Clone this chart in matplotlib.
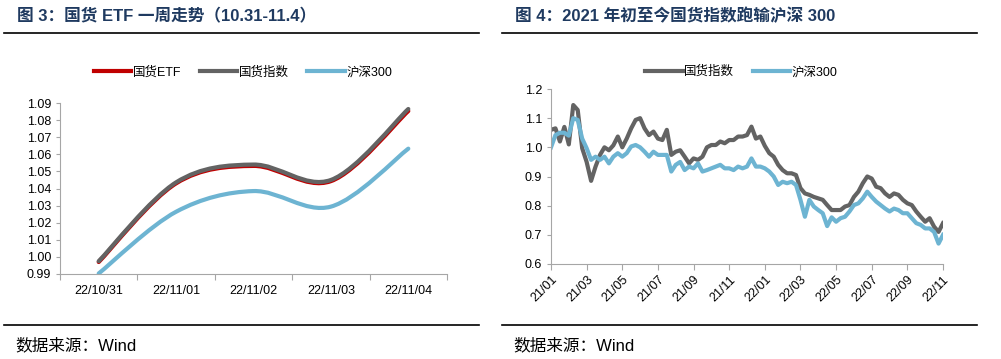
import numpy as np
import matplotlib
matplotlib.use("Agg")
import matplotlib.pyplot as plt
from matplotlib.path import Path
from matplotlib.patches import PathPatch
from matplotlib.lines import Line2D

plt.rcParams['font.family'] = ['Liberation Sans', 'Noto Sans CJK SC', 'DejaVu Sans']

# ---- left chart data: one week ----
week_labels = ['22/10/31', '22/11/01', '22/11/02', '22/11/03', '22/11/04']
etf = [0.9970, 1.0430, 1.0532, 1.0443, 1.0853]
guohuo_week = [0.9975, 1.0436, 1.0540, 1.0450, 1.0865]
hs300_week = [0.9903, 1.0264, 1.0385, 1.0294, 1.0633]

# ---- right chart data: since 2021, sampled every quarter month ----
month_pos = np.arange(0, 22.01, 0.25)
guohuo_long = [
    1.06, 1.065, 1.02, 1.07, 1.01, 1.145, 1.128, 0.997, 0.95, 0.885,
    0.934, 0.974, 1.0, 0.99, 1.007, 1.037, 1.0, 1.03, 1.065, 1.094,
    1.10, 1.065, 1.042, 1.054, 1.03, 1.025, 1.06, 0.974, 0.985,
    0.99, 0.968, 0.945, 0.962, 0.957, 0.968, 1.0, 1.008, 1.008, 1.02,
    1.014, 1.025, 1.025, 1.037, 1.037, 1.042, 1.071, 1.03, 1.037, 1.005,
    0.98, 0.968, 0.94, 0.922, 0.911, 0.911, 0.905, 0.86, 0.842, 0.837, 0.83,
    0.825, 0.82, 0.802, 0.785, 0.785, 0.785, 0.797, 0.802, 0.83, 0.848,
    0.877, 0.90, 0.893, 0.865, 0.86, 0.842, 0.83, 0.842, 0.837, 0.82,
    0.808, 0.802, 0.78, 0.762, 0.745, 0.757, 0.728, 0.71, 0.74,
]
hs300_long = [
    1.0, 1.042, 1.05, 1.05, 1.04, 1.10, 1.094, 1.03, 0.997, 0.957,
    0.968, 0.957, 0.968, 0.945, 0.968, 0.98, 0.968, 0.98, 1.003, 1.008,
    1.0, 0.985, 0.968, 0.985, 0.974, 0.974, 0.974, 0.917, 0.94,
    0.95, 0.922, 0.934, 0.928, 0.945, 0.917, 0.922, 0.928, 0.934, 0.94,
    0.928, 0.928, 0.922, 0.934, 0.928, 0.934, 0.962, 0.934, 0.934, 0.928,
    0.917, 0.90, 0.871, 0.882, 0.877, 0.882, 0.871, 0.82, 0.762, 0.82, 0.797,
    0.785, 0.774, 0.73, 0.76, 0.745, 0.757, 0.762, 0.78, 0.802, 0.808,
    0.825, 0.848, 0.83, 0.814, 0.802, 0.79, 0.78, 0.79, 0.785, 0.774,
    0.774, 0.757, 0.74, 0.734, 0.722, 0.722, 0.71, 0.67, 0.70,
]
month_labels = ['21/01', '21/03', '21/05', '21/07', '21/09', '21/11',
                '22/01', '22/03', '22/05', '22/07', '22/09', '22/11']

RED = '#C00000'
GRAY = '#636363'
BLUE = '#6DB4D2'
NAVY = '#1F3A60'
SPINE = '#A6A6A6'
LW = 3.0


def smooth_path(xs, ys):
    # Excel style smoothed line: cubic bezier through the points
    pts = np.column_stack([xs, ys])
    n = len(pts)
    verts = [pts[0]]
    codes = [Path.MOVETO]
    for i in range(n - 1):
        p0 = pts[i - 1] if i > 0 else pts[i]
        p1 = pts[i]
        p2 = pts[i + 1]
        p3 = pts[i + 2] if i + 2 < n else pts[i + 1]
        verts += [p1 + (p2 - p0) / 6, p2 - (p3 - p1) / 6, p2]
        codes += [Path.CURVE4] * 3
    return Path(verts, codes)


def style_axes(ax):
    for s in ['top', 'right']:
        ax.spines[s].set_visible(False)
    for s in ['left', 'bottom']:
        ax.spines[s].set_color(SPINE)
        ax.spines[s].set_linewidth(0.8)
    ax.tick_params(axis='both', which='major', length=3, width=0.8,
                   labelsize=9, colors='black')
    ax.tick_params(axis='both', which='major', color=SPINE)


fig = plt.figure(figsize=(10.01, 3.59), dpi=100)
W, H = 1001, 359

# ---- titles, rules, sources ----
fig.text(17 / W, 1 - 16 / H, '图 3：国货 ETF 一周走势（10.31-11.4）', fontsize=12,
         fontweight='bold', color=NAVY, va='center', ha='left')
fig.text(515 / W, 1 - 16 / H, '图 4：2021 年初至今国货指数跑输沪深 300', fontsize=12,
         fontweight='bold', color=NAVY, va='center', ha='left')
for x0, x1 in [(4, 479), (502, 977)]:
    for yy in (33, 325):
        fig.add_artist(Line2D([x0 / W, x1 / W], [1 - yy / H, 1 - yy / H],
                              color='black', lw=1.2))
fig.text(15 / W, 1 - 345 / H, '数据来源：Wind', fontsize=12, va='center', ha='left')
fig.text(513 / W, 1 - 345 / H, '数据来源：Wind', fontsize=12, va='center', ha='left')

# ---- left chart ----
ax1 = fig.add_axes([60 / W, 1 - 274 / H, 387 / W, 171 / H])
xw = np.arange(len(week_labels))
for vals, col in [(etf, RED), (guohuo_week, GRAY), (hs300_week, BLUE)]:
    ax1.add_patch(PathPatch(smooth_path(xw, vals), fill=False, edgecolor=col,
                            lw=LW, capstyle='round', zorder=3))
ax1.set_xlim(-0.5, len(week_labels) - 0.5)
ax1.set_ylim(0.99, 1.09)
ax1.set_yticks(np.arange(0.99, 1.0901, 0.01))
ax1.set_yticklabels([f'{v:.2f}' for v in np.arange(0.99, 1.0901, 0.01)])
ax1.set_xticks(np.arange(-0.5, len(week_labels), 1.0))
ax1.set_xticklabels([])
ax1.set_xticks(xw, minor=True)
ax1.set_xticklabels(week_labels, minor=True)
style_axes(ax1)
ax1.tick_params(axis='x', which='major', length=4)
ax1.tick_params(axis='x', which='minor', length=0, labelsize=9, pad=8)
handles1 = [Line2D([], [], color=c, lw=LW) for c in (RED, GRAY, BLUE)]
ax1.legend(handles1, ['国货ETF', '国货指数', '沪深300'], loc='center',
           bbox_to_anchor=(0.473, 1.18), ncol=3, frameon=False, fontsize=9,
           handlelength=3.0, handletextpad=0.1, columnspacing=1.5)

# ---- right chart ----
ax2 = fig.add_axes([551 / W, 1 - 264 / H, 392 / W, 175 / H])
ax2.plot(month_pos, guohuo_long, color=GRAY, lw=LW, label='国货指数')
ax2.plot(month_pos, hs300_long, color=BLUE, lw=LW, label='沪深300')
ax2.set_xlim(0, 22)
ax2.set_ylim(0.6, 1.2)
ax2.set_yticks(np.arange(0.6, 1.201, 0.1))
ax2.set_yticklabels([f'{v:.1f}' for v in np.arange(0.6, 1.201, 0.1)])
ax2.set_xticks(np.arange(0, 22.01, 2))
ax2.set_xticklabels(month_labels, rotation=45, ha='right', rotation_mode='anchor')
style_axes(ax2)
ax2.tick_params(axis='x', length=4, pad=3)
ax2.legend(loc='center', bbox_to_anchor=(0.485, 1.097), ncol=2, frameon=False,
           fontsize=9, handlelength=3.0, handletextpad=0.1, columnspacing=1.5)

fig.savefig('out.png', dpi=100)
